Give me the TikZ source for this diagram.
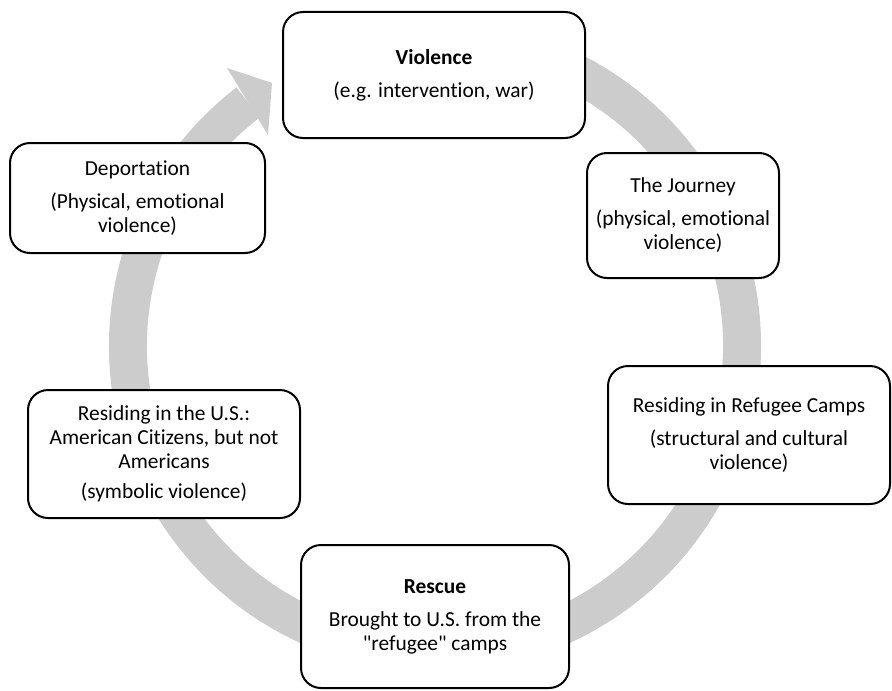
\documentclass[tikz,border=0pt]{standalone}
\usepackage{fontspec}
\setmainfont{Carlito}[RawFeature={-liga;-clig;-calt;-dlig}]
\usetikzlibrary{calc}
\tikzset{
  stage/.style={
    draw=black,
    line width=1pt,
    rounded corners=10pt,
    fill=white,
    align=center,
    inner sep=4pt,
    font=\fontsize{10.7}{12}\selectfont
  },
  cycle ring/.style={
    draw=gray!40,
    line width=19pt
  },
  ring head/.style={
    fill=gray!40
  }
}

\begin{document}
\begin{tikzpicture}[x=0.5pt, y=-0.5pt]
    % 1 unit = 1 px of the canvas, y runs downwards
    \useasboundingbox (0,0) rectangle (892,690);
    \coordinate (hub) at (435,346);

    % grey ring, clockwise, with its head at the upper left
    \draw[cycle ring] ($(hub)+(-80:307)$) arc (-80:232.5:307);
    \fill[ring head] (227,68) -- (272,83) -- (268,135) -- cycle;

    % stages
    \node[stage, minimum width=151pt, minimum height=63pt] (violence) at (434,75)
      {\textbf{Violence}\\[4.5pt](e.g. intervention, war)};
    \node[stage, minimum width=96pt, minimum height=62.5pt] (journey) at (683,215.5)
      {The Journey\\[4.5pt](physical, emotional\\violence)};
    \node[stage, minimum width=141pt, minimum height=69pt] (camps) at (749,435)
      {Residing in Refugee Camps\\[4.5pt](structural and cultural\\violence)};
    \node[stage, minimum width=134pt, minimum height=71.5pt] (rescue) at (435,616.5)
      {\textbf{Rescue}\\[4.5pt]Brought to U.S. from the\\\textquotedbl refugee\textquotedbl{} camps};
    \node[stage, minimum width=136pt, minimum height=64pt] (residing) at (164,454)
      {Residing in the U.S.:\\American Citizens, but not\\Americans\\[3pt](symbolic violence)};
    \node[stage, minimum width=127.5pt, minimum height=55pt] (deport) at (137.5,198)
      {Deportation\\[4.5pt](Physical, emotional\\violence)};

\end{tikzpicture}
\end{document}
